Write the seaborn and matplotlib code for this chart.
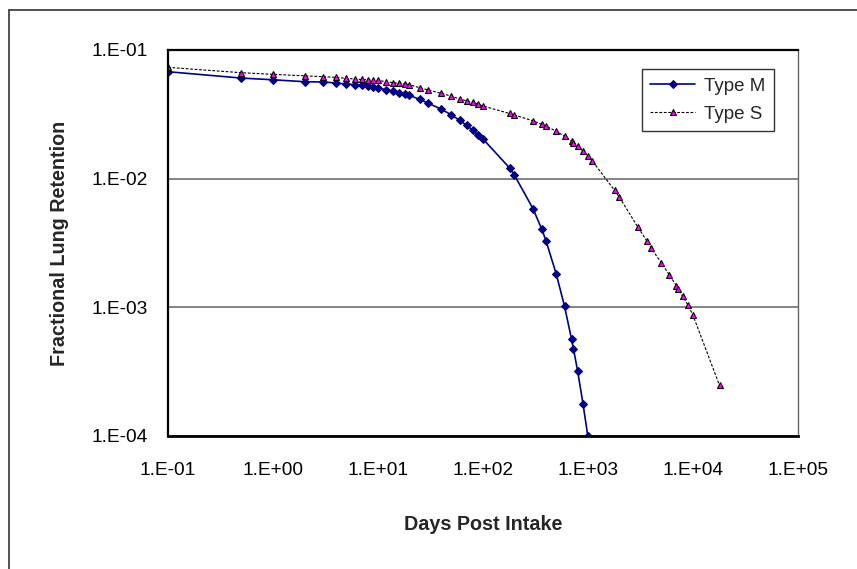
import matplotlib
matplotlib.use("Agg")
import matplotlib.pyplot as plt
import seaborn as sns
import numpy as np
import pandas as pd
from matplotlib.lines import Line2D
from matplotlib.ticker import FixedLocator, FuncFormatter, NullLocator

# ---- data ----
days_m = [0.1, 0.5, 1, 2, 3, 4, 5, 6, 7, 8, 9, 10, 12, 14, 16, 18, 20, 25, 30, 40,
          50, 60, 70, 80, 90, 100, 180, 200, 300, 365, 400, 500, 600, 700, 730, 800,
          900, 1000]
ret_m = [0.0678, 0.0605, 0.0587, 0.0567, 0.0564, 0.0554, 0.0544, 0.0537, 0.0531, 0.0522,
         0.0516, 0.0509, 0.0490, 0.0477, 0.0466, 0.0452, 0.0444, 0.0413, 0.0387, 0.0347,
         0.0314, 0.0284, 0.0260, 0.0238, 0.0219, 0.0204, 0.0121, 0.01064, 0.00586, 0.00403,
         0.00328, 0.00182, 0.00102, 0.000566, 0.000477, 0.00032, 0.000178, 0.0001]

days_s = [0.1, 0.5, 1, 2, 3, 4, 5, 6, 7, 8, 9, 10, 12, 14, 16, 18, 20, 25, 30, 40,
          50, 60, 70, 80, 90, 100, 180, 200, 300, 365, 400, 500, 600, 700, 730, 800,
          900, 1000, 1100, 1800, 2000, 3000, 3650, 4000, 5000, 6000, 7000, 7300, 8000,
          9000, 10000, 18000]
ret_s = [0.0733, 0.0666, 0.0647, 0.0630, 0.0620, 0.0613, 0.0602, 0.0595, 0.0590, 0.0588,
         0.0584, 0.0580, 0.0567, 0.0557, 0.0551, 0.0545, 0.0537, 0.0509, 0.0490, 0.0460,
         0.0438, 0.0416, 0.0403, 0.0392, 0.0380, 0.0367, 0.0321, 0.0312, 0.0282, 0.0264,
         0.0256, 0.0234, 0.0213, 0.0196, 0.0189, 0.0179, 0.0164, 0.0150, 0.0138, 0.0081,
         0.00718, 0.0042, 0.00328, 0.00289, 0.00223, 0.00178, 0.00147, 0.00138, 0.00122,
         0.00104, 0.000877, 0.000247]

x_ticks = [1e-1, 1e0, 1e1, 1e2, 1e3, 1e4, 1e5]
y_ticks = [1e-4, 1e-3, 1e-2, 1e-1]
series_names = ["Type M", "Type S"]

sns.set_style("white")
plt.rcParams["font.family"] = ["Liberation Sans", "DejaVu Sans"]

W, H = 857, 569
fig = plt.figure(figsize=(W / 100, H / 100), dpi=100)
L, R, T, B = 168, 797.7, 50, 436
ax = fig.add_axes([L / W, 1 - B / H, (R - L) / W, (B - T) / H])

sns.lineplot(x=days_m, y=ret_m, ax=ax, color="#000080", lw=1.2, marker="D",
             markersize=3.9, markeredgecolor="#000080", markerfacecolor="#000080",
             estimator=None, sort=False, label=series_names[0])
sns.lineplot(x=days_s, y=ret_s, ax=ax, color="black", lw=0.8, linestyle=(0, (2.5, 1.5)),
             marker="^", markersize=4.5, markeredgecolor="black", markeredgewidth=0.8,
             markerfacecolor="#FF00FF", estimator=None, sort=False,
             label=series_names[1])

ax.set_xscale("log")
ax.set_yscale("log")
ax.set_xlim(1e-1, 1e5)
ax.set_ylim(1e-4, 1e-1)

def fmt(v, pos):
    e = int(round(np.log10(v)))
    s = "-" if e < 0 else "+"
    return f"1.E{s}{abs(e):02d}"

ax.xaxis.set_major_locator(FixedLocator(x_ticks))
ax.yaxis.set_major_locator(FixedLocator(y_ticks))
ax.xaxis.set_minor_locator(NullLocator())
ax.yaxis.set_minor_locator(NullLocator())
ax.xaxis.set_major_formatter(FuncFormatter(fmt))
ax.yaxis.set_major_formatter(FuncFormatter(fmt))
ax.tick_params(axis="both", direction="out", length=6, width=1, color="#555555",
               labelsize=13.8, labelcolor="black")
ax.tick_params(axis="x", pad=13)
ax.tick_params(axis="y", pad=8.5)

ax.grid(False)
ax.yaxis.grid(True, color="#707070", lw=1.2)
ax.set_axisbelow(True)

for side in ["top", "left", "bottom"]:
    ax.spines[side].set_color("black")
    ax.spines[side].set_linewidth(1.6)
ax.spines["bottom"].set_linewidth(2.0)
ax.spines["right"].set_color("#666666")
ax.spines["right"].set_linewidth(1.0)

ax.set_xlabel("Days Post Intake", fontsize=14.2, fontweight="bold", labelpad=26)
ax.set_ylabel("Fractional Lung Retention", fontsize=14.2, fontweight="bold", labelpad=16)

leg = ax.legend(loc="upper left", bbox_to_anchor=(642 / W, 1 - 69 / H),
                bbox_transform=fig.transFigure, frameon=True, fancybox=False,
                edgecolor="black", fontsize=13.5, handlelength=2.4,
                handletextpad=0.45, borderpad=0.45, labelspacing=0.6,
                borderaxespad=0)
leg.get_frame().set_linewidth(1.0)

# outer chart frame (cropped at right and bottom)
fig.add_artist(Line2D([9 / W, 9 / W], [1 - 10 / H, 0], transform=fig.transFigure,
                      color="#333333", lw=1.2))
fig.add_artist(Line2D([9 / W, 1], [1 - 10 / H, 1 - 10 / H], transform=fig.transFigure,
                      color="#333333", lw=1.2))

fig.savefig("out.png", dpi=100, facecolor="white")
